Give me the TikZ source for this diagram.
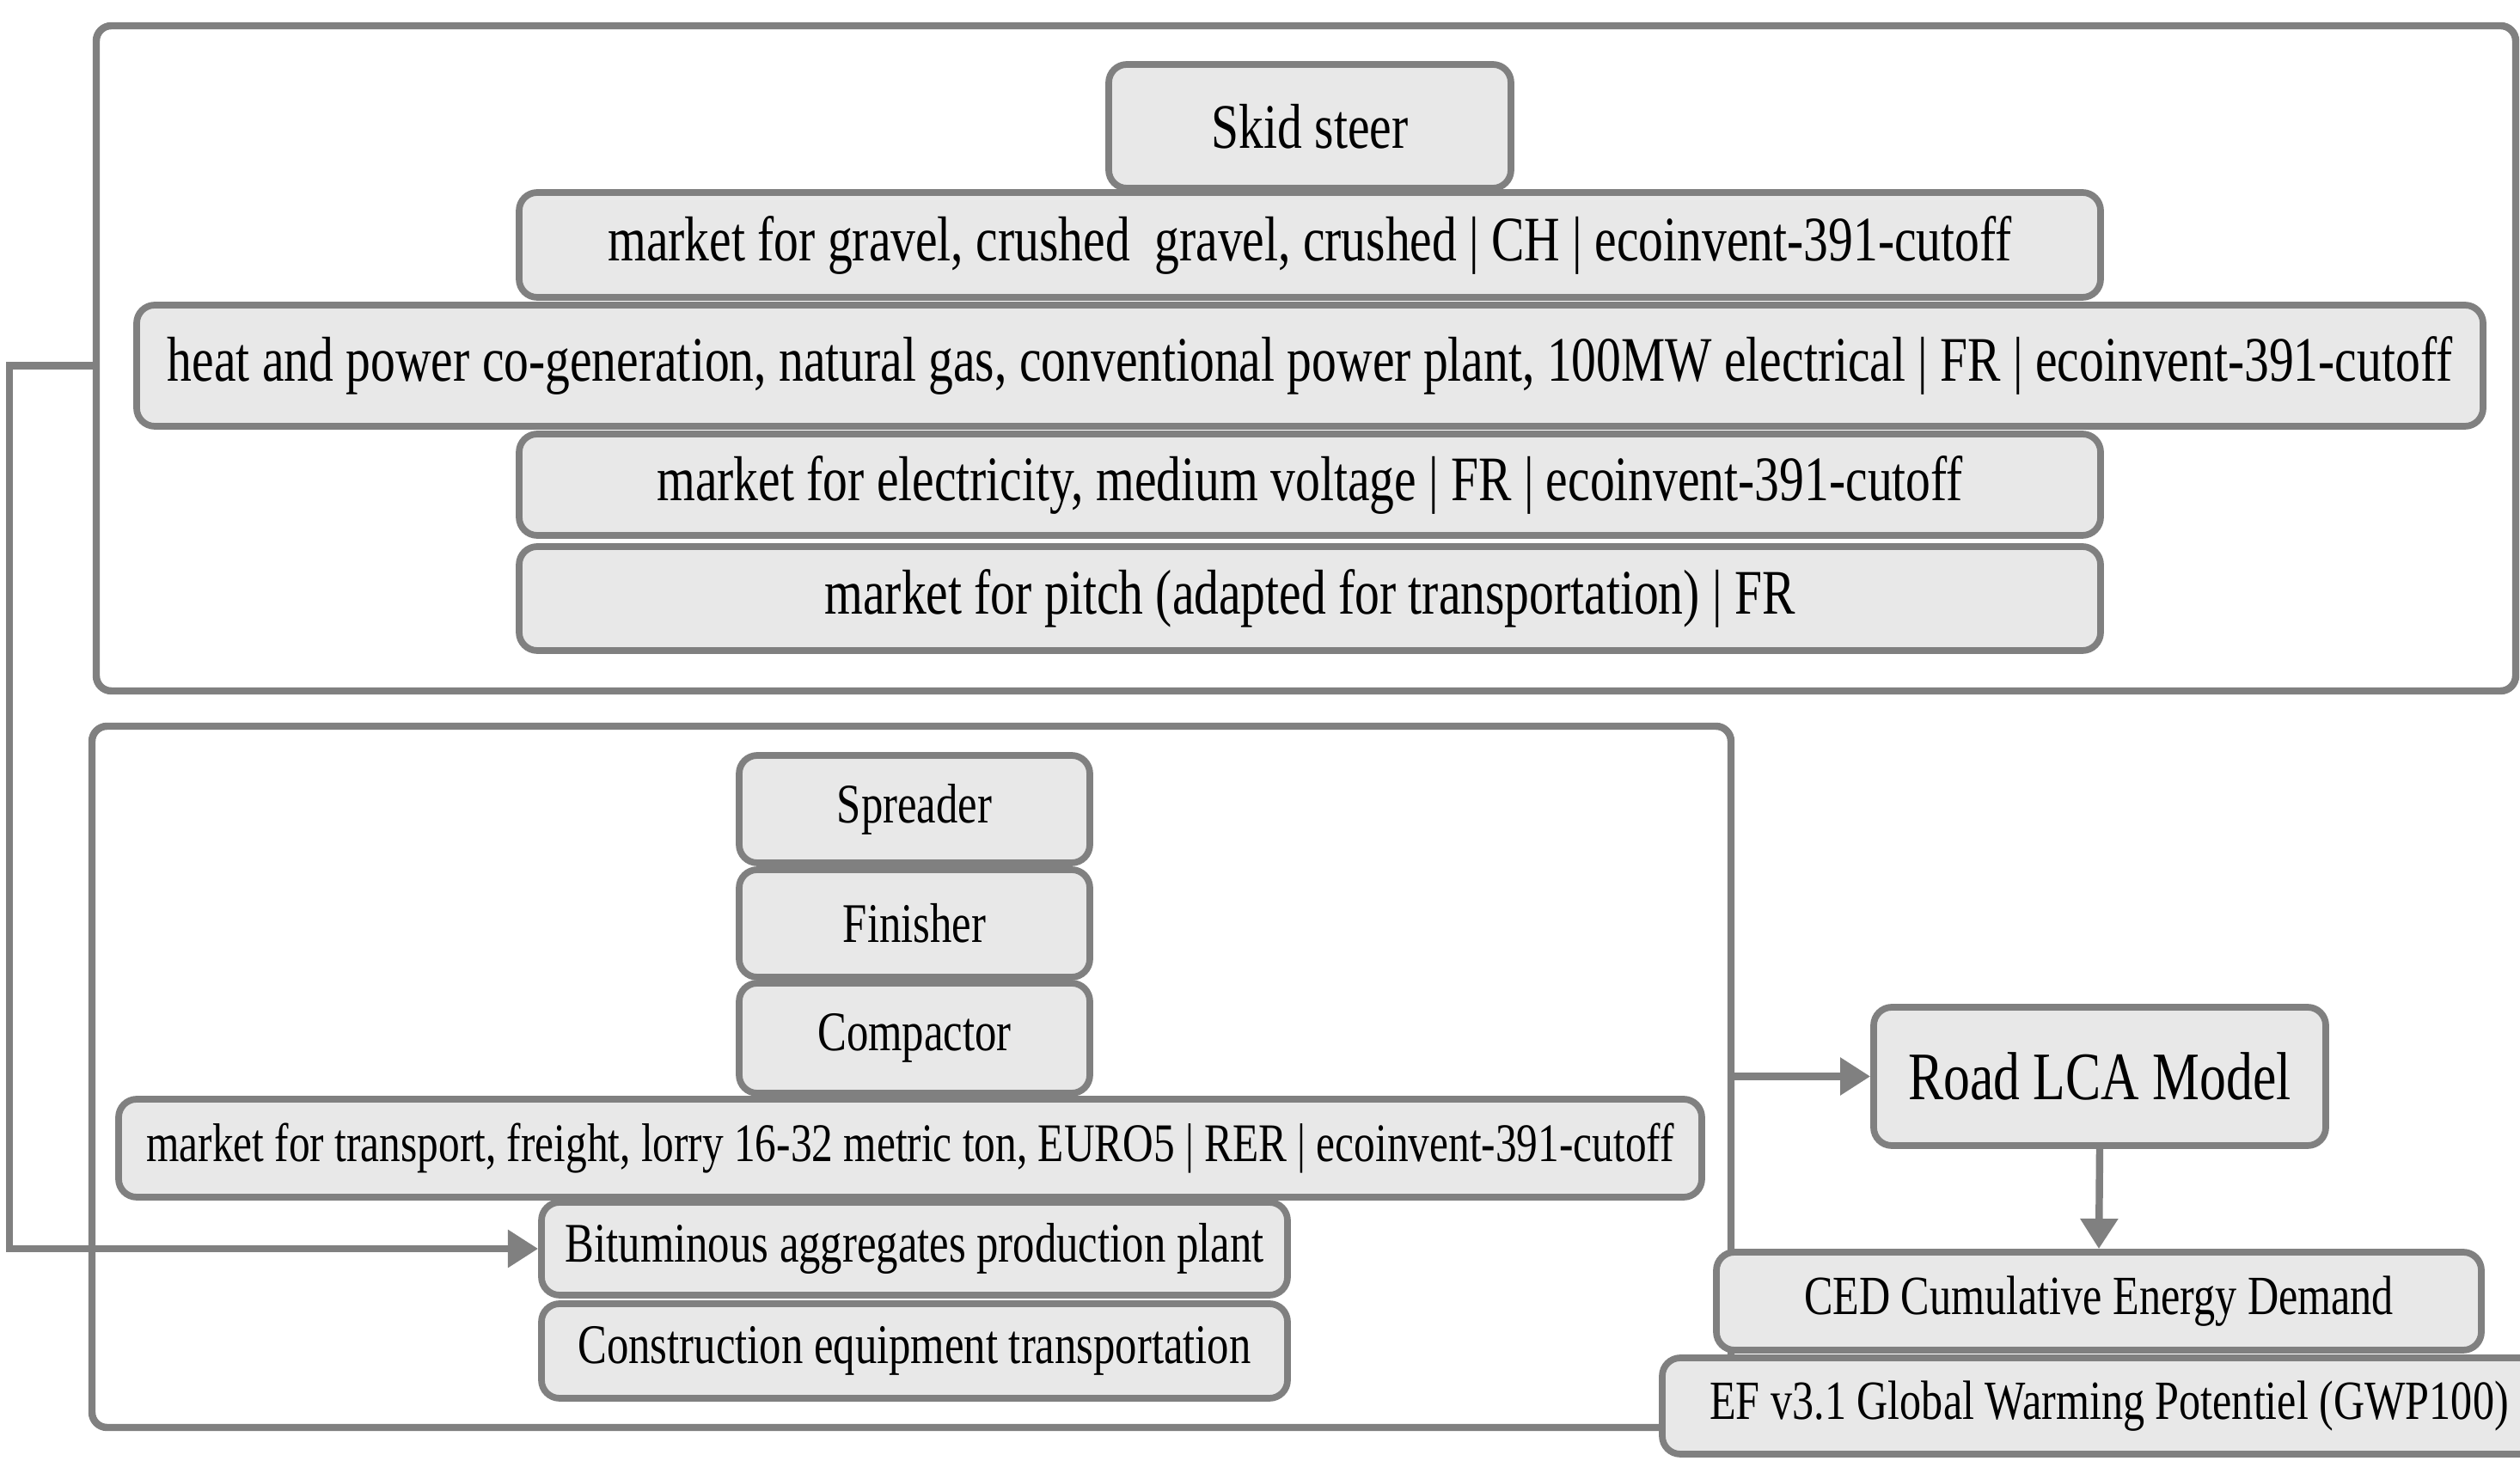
\documentclass[tikz,border=0pt]{standalone}
\usepackage{fontspec}
\setmainfont{Liberation Serif}[FakeStretch=0.78]
\usetikzlibrary{arrows.meta,positioning}

\definecolor{edgegray}{RGB}{128,128,128}
\definecolor{boxfill}{RGB}{232,232,232}

\newcommand\itemfont{\fontsize{21}{24}\selectfont}
\newcommand\lowfont{\fontsize{18.5}{22}\selectfont}
\newcommand\resfont{\fontsize{18.3}{22}\selectfont}
\newcommand\modelfont{\fontsize{22.5}{26}\selectfont}

\tikzset{
  item/.style={draw=edgegray, fill=boxfill, line width=2.2pt, rounded corners=6pt,
    inner sep=0pt, align=center, font=\itemfont},
  lowitem/.style={item, font=\lowfont},
  resitem/.style={item, font=\resfont},
  frame/.style={draw=edgegray, line width=2.4pt, rounded corners=5pt, inner sep=0pt},
  link/.style={draw=edgegray, line width=2.4pt, -{Triangle[length=10pt,width=12pt]}}
}

\begin{document}
\begin{tikzpicture}[x=1cm,y=1cm]
\useasboundingbox (0,0) rectangle (29.32,17);
% Frames
\node[frame, minimum width=28.15cm, minimum height=7.74cm] (topframe) at (15.195,12.83) {};
\node[frame, minimum width=19.07cm, minimum height=8.16cm] (botframe) at (10.605,4.47) {};
% Background processes
\node[item, minimum width=4.68cm, minimum height=1.44cm] (skid) at (15.24,15.53) {Skid steer};
\node[item, minimum width=18.40cm, minimum height=1.22cm] (gravel) at (15.24,14.15)
  {market for gravel, crushed~ gravel, crushed | CH | ecoinvent-391-cutoff};
\node[item, minimum width=27.30cm, minimum height=1.41cm] (heat) at (15.24,12.745)
  {heat and power co-generation, natural gas, conventional power plant, 100MW electrical | FR | ecoinvent-391-cutoff};
\node[item, minimum width=18.40cm, minimum height=1.18cm] (elec) at (15.24,11.36)
  {market for electricity, medium voltage | FR | ecoinvent-391-cutoff};
\node[item, minimum width=18.40cm, minimum height=1.21cm] (pitch) at (15.24,10.035)
  {market for pitch (adapted for transportation) | FR};
% Foreground processes
\node[lowitem, minimum width=4.08cm, minimum height=1.25cm] (spreader) at (10.64,7.585) {Spreader};
\node[lowitem, minimum width=4.08cm, minimum height=1.25cm] (finisher) at (10.64,6.255) {Finisher};
\node[lowitem, minimum width=4.08cm, minimum height=1.28cm] (compactor) at (10.64,4.92) {Compactor};
\node[lowitem, font=\fontsize{18}{22}\selectfont, minimum width=18.42cm, minimum height=1.14cm] (transport) at (10.59,3.64)
  {market for transport, freight, lorry 16-32 metric ton, EURO5 | RER | ecoinvent-391-cutoff};
\node[lowitem, minimum width=8.68cm, minimum height=1.08cm] (bitum) at (10.64,2.47)
  {Bituminous aggregates production plant};
\node[lowitem, minimum width=8.68cm, minimum height=1.10cm] (constr) at (10.64,1.28)
  {Construction equipment transportation};
% Model and indicators
\node[item, font=\modelfont, minimum width=5.26cm, minimum height=1.61cm] (road) at (24.43,4.475) {Road LCA Model};
\node[resitem, minimum width=8.90cm, minimum height=1.14cm] (ced) at (24.42,1.86) {CED Cumulative Energy Demand};
\node[resitem, minimum width=10.40cm, minimum height=1.12cm] (ef) at (24.54,0.64)
  {EF v3.1 Global Warming Potentiel (GWP100)};
% Connectors
\draw[link] (topframe.west |- heat) -- ++(-0.97,0) |- (bitum.west);
\draw[link] (botframe.east |- road) -- (road.west);
\draw[link] (road.south) -- (ced.north);
\end{tikzpicture}
\end{document}
